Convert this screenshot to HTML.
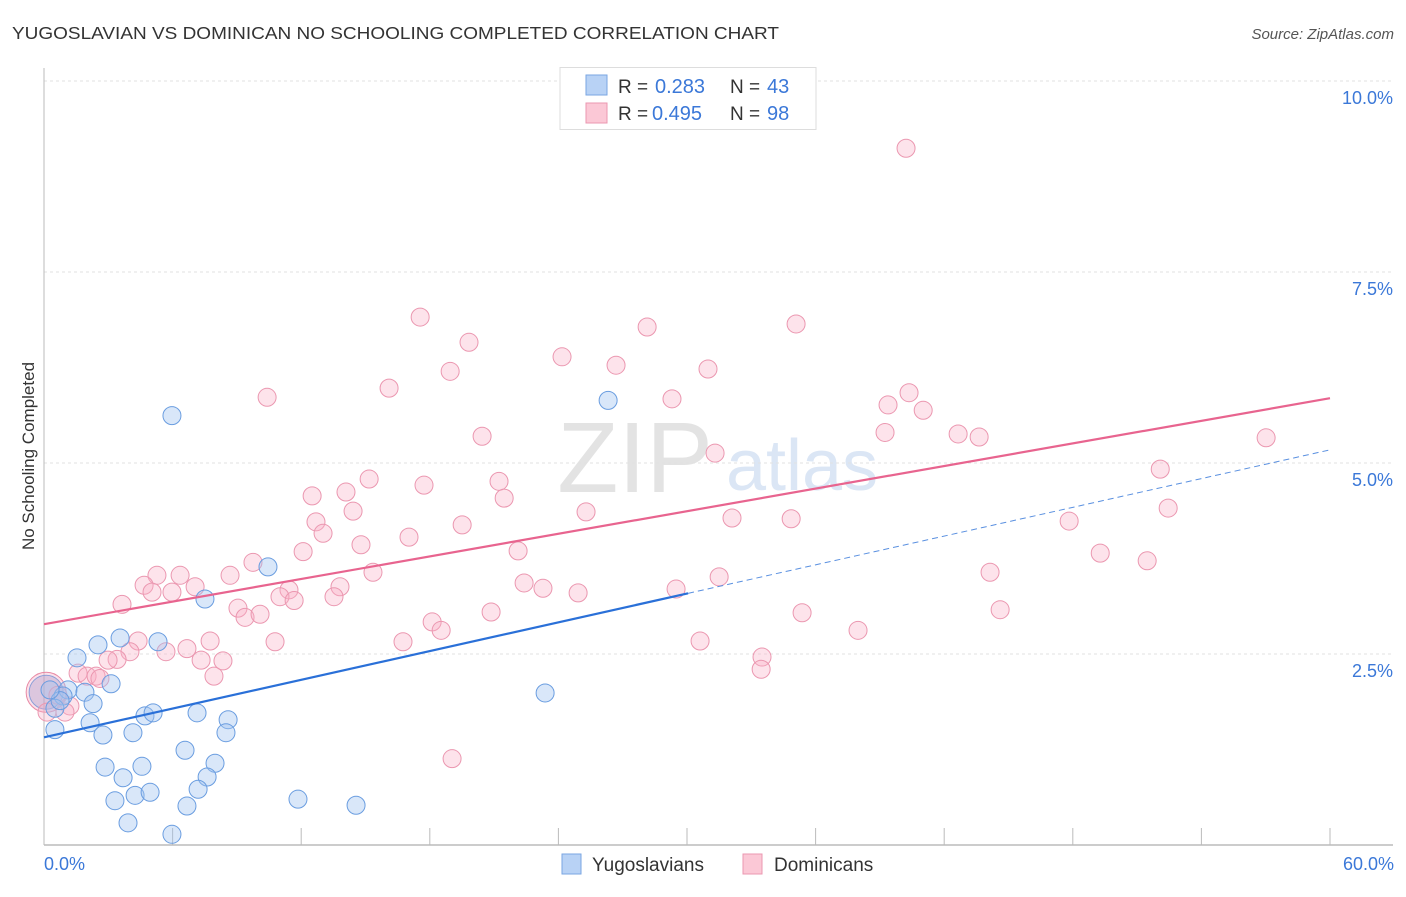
<!DOCTYPE html>
<html><head><meta charset="utf-8"><style>
body{margin:0;background:#fff;font-family:"Liberation Sans",sans-serif;}
svg text{font-family:"Liberation Sans",sans-serif;}
</style></head><body>
<svg id="chart" width="1406" height="892" viewBox="0 0 1406 892">
<text x="12" y="39" font-size="17.5" fill="#333" textLength="767" lengthAdjust="spacingAndGlyphs">YUGOSLAVIAN VS DOMINICAN NO SCHOOLING COMPLETED CORRELATION CHART</text>
<text x="1394" y="39" font-size="15" fill="#555" font-style="italic" text-anchor="end">Source: ZipAtlas.com</text>
<text x="34" y="456" font-size="17" fill="#333" text-anchor="middle" transform="rotate(-90 34 456)">No Schooling Completed</text>
<g>
<text x="635" y="492" font-size="100" fill="#e3e3e3" font-family="Liberation Serif,serif" text-anchor="middle">ZIP</text>
<text x="802" y="490" font-size="72" fill="#dbe6f5" text-anchor="middle">atlas</text>
</g>
<g id="grid"></g><g id="axes"></g><g id="pts"></g><g id="trend"></g>
<g>
<rect x="560" y="67.5" width="256" height="62" fill="#fff" stroke="#ddd"/>
<rect x="586" y="75" width="21" height="20" fill="#b8d2f5" stroke="#7aa6e2"/>
<rect x="586" y="103" width="21" height="20" fill="#fbc8d6" stroke="#eb97b0"/>
<text x="618" y="93" font-size="19" fill="#333">R =</text>
<text x="655" y="93" font-size="20" fill="#3b78d8">0.283</text>
<text x="730" y="93" font-size="19" fill="#333">N =</text>
<text x="767" y="93" font-size="20" fill="#3b78d8">43</text>
<text x="618" y="120" font-size="19" fill="#333">R =</text>
<text x="652" y="120" font-size="20" fill="#3b78d8">0.495</text>
<text x="730" y="120" font-size="19" fill="#333">N =</text>
<text x="767" y="120" font-size="20" fill="#3b78d8">98</text>
</g>
<g>
<rect x="562" y="854" width="19" height="20" fill="#b8d2f5" stroke="#7aa6e2"/>
<text x="592" y="871" font-size="19" fill="#333">Yugoslavians</text>
<rect x="743" y="854" width="19" height="20" fill="#fbc8d6" stroke="#eb97b0"/>
<text x="774" y="871" font-size="19" fill="#333">Dominicans</text>
</g>
</svg>
<script>
const yTicks=[2.5,5.0,7.5,10.0];
const yTickLabels=["2.5%","5.0%","7.5%","10.0%"];
const xTickLabels=["0.0%","60.0%"];
const yugoX=[5.97,10.45,7.51,26.32,3.55,2.52,5.32,1.54,3.13,1.12,1.91,0.89,2.29,0.51,0.75,0.51,2.15,2.75,4.15,4.71,5.09,7.14,8.59,8.49,6.58,2.85,4.57,3.69,7.98,7.61,4.25,4.95,3.31,7.19,3.92,6.67,5.97,11.85,14.56,23.38,0.28];
const yugoY=[5.62,3.64,3.22,5.82,2.71,2.62,2.66,2.45,2.11,2.03,2.00,1.95,1.85,1.79,1.89,1.51,1.60,1.44,1.47,1.69,1.73,1.73,1.64,1.47,1.24,1.02,1.03,0.88,1.07,0.89,0.65,0.69,0.58,0.73,0.29,0.51,0.14,0.60,0.52,1.99,2.03];
const domX=[40.22,17.55,35.09,28.14,19.83,24.17,26.69,18.95,30.98,16.10,10.41,40.36,29.30,39.38,41.02,39.24,20.44,42.65,43.63,57.02,31.31,52.08,15.17,21.23,17.73,14.09,12.51,21.47,14.42,25.29,52.45,32.10,34.86,47.83,12.69,19.51,13.02,17.03,14.79,12.09,22.12,49.28,51.47,9.75,15.35,44.14,31.50,5.27,6.35,8.68,4.67,22.40,5.04,5.97,7.05,13.81,11.43,23.28,29.49,13.53,11.01,11.67,24.92,3.64,9.05,9.38,10.08,20.86,35.37,44.61,18.11,18.53,37.98,4.39,7.75,10.78,16.75,30.61,4.01,6.67,5.69,3.41,7.33,8.35,33.50,33.46,2.99,1.59,2.01,2.43,2.61,7.93,0.65,1.21,0.98,0.14,19.04];
const domY=[9.12,6.91,6.82,6.78,6.58,6.39,6.28,6.20,6.23,5.98,5.86,5.92,5.84,5.76,5.69,5.40,5.35,5.38,5.34,5.33,5.13,4.92,4.79,4.76,4.71,4.62,4.57,4.54,4.37,4.36,4.41,4.28,4.27,4.24,4.23,4.19,4.08,4.03,3.93,3.84,3.85,3.82,3.72,3.70,3.57,3.57,3.51,3.53,3.53,3.53,3.40,3.43,3.31,3.31,3.38,3.38,3.34,3.36,3.35,3.25,3.25,3.20,3.30,3.15,3.10,2.98,3.02,3.05,3.04,3.08,2.92,2.81,2.81,2.67,2.67,2.66,2.66,2.67,2.53,2.57,2.53,2.43,2.42,2.41,2.46,2.30,2.42,2.25,2.21,2.21,2.18,2.21,1.96,1.82,1.74,1.74,1.13];
const domTrend=[2.89,0.0493];
const yugoTrend=[1.41,0.0627];
const yugoSolidEnd=30.05;

const NS="http://www.w3.org/2000/svg";
const X0=44,X1=1330,Y0=845,PXPERY=76.4;
function sx(v){return X0+(X1-X0)*v/60;}
function sy(v){return Y0-v*PXPERY;}
function mk(tag,attrs,parent){const e=document.createElementNS(NS,tag);for(const k in attrs)e.setAttribute(k,attrs[k]);document.getElementById(parent).appendChild(e);return e;}

yTicks.forEach((t,i)=>{
  const l=mk('line',{x1:X0,x2:1393,y1:sy(t),y2:sy(t),stroke:'#e2e2e2','stroke-dasharray':'3,3'},'grid');
  
  
  const tx=mk('text',{x:1393,y:sy(t)+23,'font-size':18,fill:'#3b78d8','text-anchor':'end'},'grid');
  tx.textContent=yTickLabels[i];
  
  
});
{
const a=mk('line',{x1:X0,x2:1393,y1:Y0,y2:Y0,stroke:'#bbb','stroke-width':1.5},'axes');


const b=mk('line',{x1:X0,x2:X0,y1:68,y2:Y0,stroke:'#bbb','stroke-width':1},'axes');


for(let i=1;i<=10;i++){
  const t=mk('line',{x1:sx(i*6),x2:sx(i*6),y1:828,y2:Y0,stroke:'#bbb'},'axes');
  
  
}
const l0=mk('text',{x:44,y:870,'font-size':18,fill:'#3b78d8'},'axes');l0.textContent=xTickLabels[0];


const l1=mk('text',{x:1394,y:870,'font-size':18,fill:'#3b78d8','text-anchor':'end'},'axes');l1.textContent=xTickLabels[1];


}
{
const bp=mk('circle',{cx:sx(0.1),cy:sy(2.0),r:20,fill:'rgba(245,170,195,0.35)',stroke:'#e88aa5'},'pts');


const bb=mk('circle',{cx:sx(0.1),cy:sy(2.0),r:17,fill:'rgba(160,150,200,0.35)',stroke:'#8a9fd8'},'pts');


}
domX.forEach((x,i)=>{
  const c=mk('circle',{cx:sx(x),cy:sy(domY[i]),r:9,fill:'rgba(248,176,198,0.35)',stroke:'#eb97b0','stroke-width':1},'pts');
  
  
});
yugoX.forEach((x,i)=>{
  const c=mk('circle',{cx:sx(x),cy:sy(yugoY[i]),r:9,fill:'rgba(160,196,240,0.4)',stroke:'#6a9de0','stroke-width':1},'pts');
  
  
});
{
const p=mk('line',{x1:sx(0),y1:sy(domTrend[0]),x2:sx(60),y2:sy(domTrend[0]+60*domTrend[1]),stroke:'#e8648f','stroke-width':2.2},'trend');


const b=mk('line',{x1:sx(0),y1:sy(yugoTrend[0]),x2:sx(yugoSolidEnd),y2:sy(yugoTrend[0]+yugoSolidEnd*yugoTrend[1]),stroke:'#2a70d8','stroke-width':2.2},'trend');


const d=mk('line',{x1:sx(yugoSolidEnd),y1:sy(yugoTrend[0]+yugoSolidEnd*yugoTrend[1]),x2:sx(60),y2:sy(yugoTrend[0]+60*yugoTrend[1]),stroke:'#5a90e0','stroke-width':1,'stroke-dasharray':'6,4'},'trend');


}
</script>
</body></html>
